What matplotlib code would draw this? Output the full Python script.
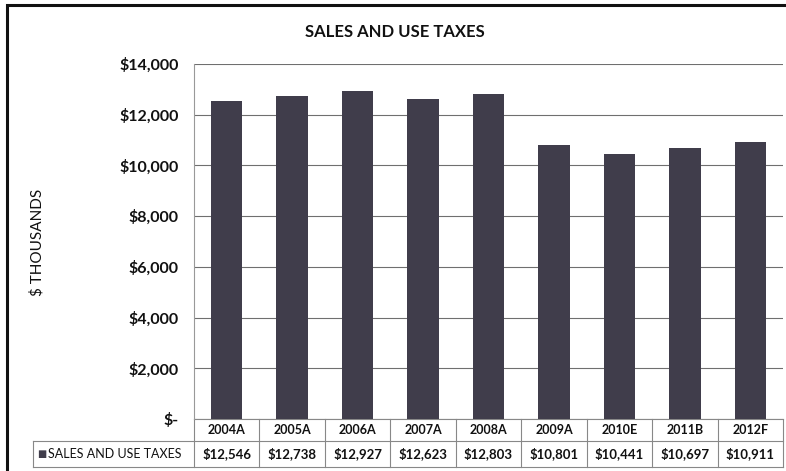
import matplotlib
matplotlib.use("Agg")
import matplotlib.pyplot as plt
from matplotlib.transforms import blended_transform_factory
from matplotlib.patches import Rectangle
from matplotlib.lines import Line2D

categories = ["2004A", "2005A", "2006A", "2007A", "2008A", "2009A", "2010E", "2011B", "2012F"]
values = [12546, 12738, 12927, 12623, 12803, 10801, 10441, 10697, 10911]
series_name = "SALES AND USE TAXES"
title = "SALES AND USE TAXES"
ylabel = "$ THOUSANDS"
yticks = [0, 2000, 4000, 6000, 8000, 10000, 12000, 14000]

FONT = ["Lato", "DejaVu Sans"]
plt.rcParams["font.family"] = FONT

W, H = 786, 471
fig = plt.figure(figsize=(W / 100, H / 100), dpi=100)

ax_l, ax_r, ax_t, ax_b = 194, 783, 64, 419
ax = fig.add_axes([ax_l / W, 1 - ax_b / H, (ax_r - ax_l) / W, (ax_b - ax_t) / H])

bar_color = "#403d4b"
x = list(range(len(categories)))
ax.bar(x, values, width=0.48, color=bar_color, zorder=3)
ax.set_xlim(-0.5, len(categories) - 0.5)
ax.set_ylim(0, 14000)
ax.set_yticks(yticks)
ax.set_yticklabels(["$-" if v == 0 else f"${v:,.0f}" for v in yticks],
                   fontsize=11.5, fontweight="bold", color="#111111")
ax.tick_params(axis="y", length=0, pad=11)
ax.set_xticks([])
ax.yaxis.grid(True, color="#6f6f6f", linewidth=0.8, zorder=0)
for s in ["top", "right", "bottom"]:
    ax.spines[s].set_visible(False)
ax.spines["left"].set_color("#999999")
ax.spines["left"].set_linewidth(0.8)

fig.text(395 / W, 1 - 32 / H, title, ha="center", va="center",
         fontsize=12, fontweight="bold", color="#111111")
fig.text(37 / W, 1 - 242 / H, ylabel, ha="center", va="center", rotation=90,
         fontsize=11, color="#111111")

# data table beneath the chart
tr = blended_transform_factory(ax.transData, ax.transAxes)
ax_h = ax_b - ax_t
col_px = (ax_r - ax_l) / len(categories)
def yfrac(py):
    return (ax_b - py) / ax_h
def xdata(px):
    return (px - ax_l) / col_px - 0.5

row1_top, row1_bot, row2_bot = 419, 441, 467
x_left = xdata(33)
xmax = len(categories) - 0.5
lc = "#888888"
lw = 0.8
lines = [
    ([-0.5, xmax], [yfrac(row1_top)] * 2),
    ([x_left, xmax], [yfrac(row1_bot)] * 2),
    ([x_left, xmax], [yfrac(row2_bot)] * 2),
    ([x_left, x_left], [yfrac(row1_bot), yfrac(row2_bot)]),
]
for i in range(len(categories) + 1):
    lines.append(([i - 0.5, i - 0.5], [yfrac(row1_top), yfrac(row2_bot)]))
for xs, ys in lines:
    ax.add_line(Line2D(xs, ys, transform=tr, color=lc, linewidth=lw, clip_on=False))

for i, (c, v) in enumerate(zip(categories, values)):
    ax.text(i, yfrac((row1_top + row1_bot) / 2), c, transform=tr, ha="center", va="center",
            fontsize=9, fontweight="bold", color="#111111", clip_on=False)
    ax.text(i, yfrac((row1_bot + row2_bot) / 2), f"${v:,.0f}", transform=tr, ha="center",
            va="center", fontsize=9.5, fontweight="bold", color="#111111", clip_on=False)

ymid2 = yfrac((row1_bot + row2_bot) / 2)
ax.text(xdata(48), ymid2, series_name, transform=tr, ha="left", va="center",
        fontsize=9, color="#111111", clip_on=False)
# legend key square
ax.text(xdata(37), ymid2, "\u25a0", transform=tr, ha="left", va="center",
        fontsize=7, color=bar_color, clip_on=False, family=["DejaVu Sans"])

# outer frame
fig.patches.append(Rectangle((7 / W, -0.05), 1.1, 1 - 5 / H + 0.05, transform=fig.transFigure,
                             fill=False, edgecolor="#111111", linewidth=2.2))

fig.savefig("out.png", dpi=100, facecolor="white")
